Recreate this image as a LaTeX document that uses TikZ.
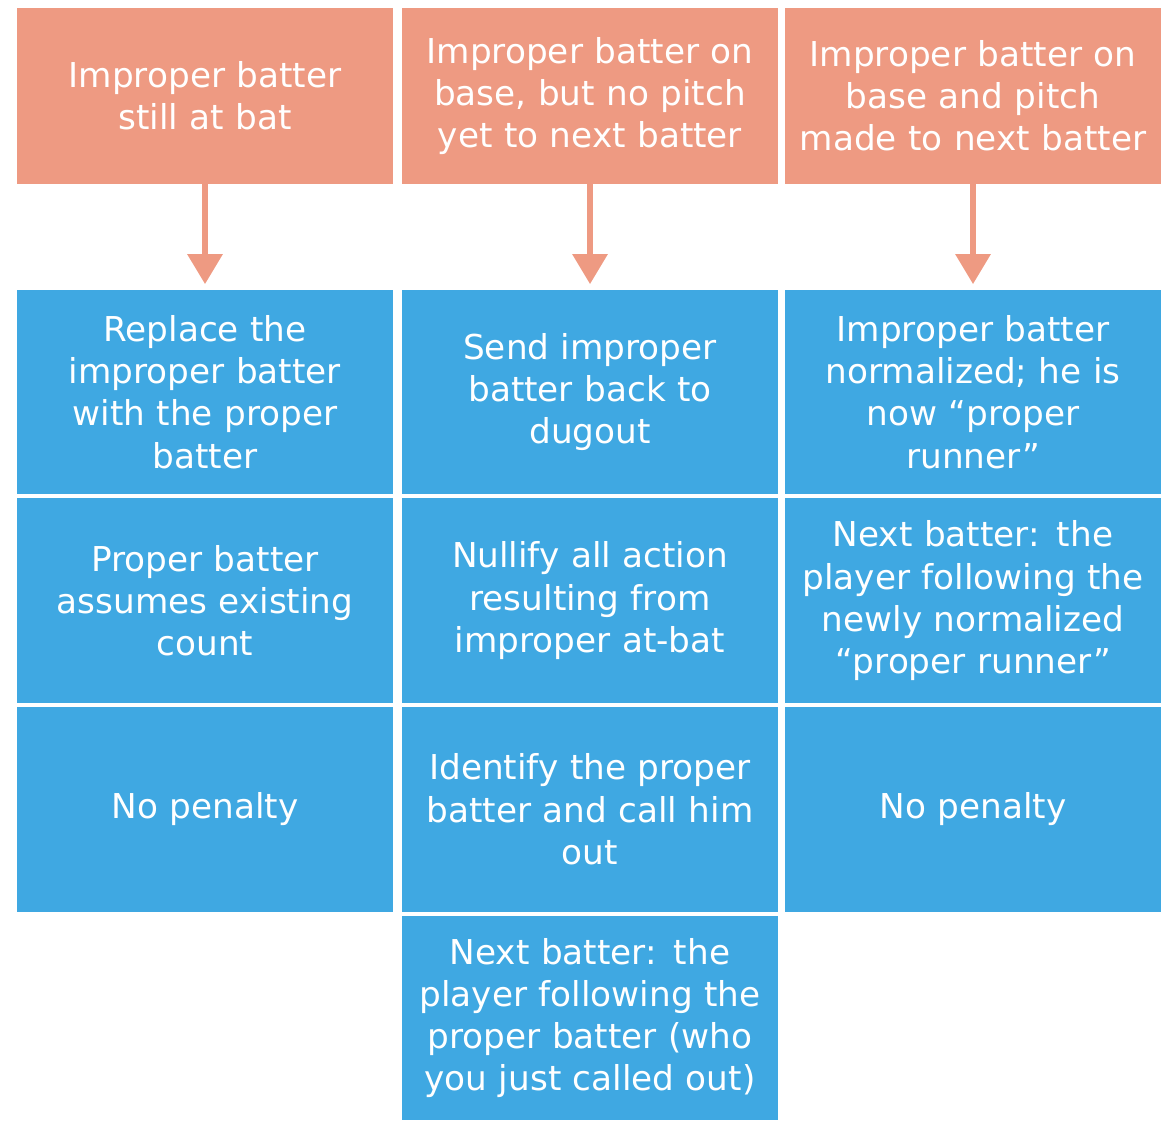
\documentclass[tikz,border=0pt]{standalone}
\usepackage{fontspec}
\setmainfont{DejaVu Sans}
\usepackage{tikz}
\usetikzlibrary{positioning, arrows.meta}
\definecolor{salmon}{HTML}{EE9A82}
\definecolor{skyblue}{HTML}{3FA8E2}
\newcommand{\boxfont}{\fontsize{19.5}{24}\selectfont}

\begin{document}
\begin{tikzpicture}[x=0.02cm, y=-0.02cm,
    case/.style={fill=salmon, text=white, minimum width=7.52cm,
      minimum height=3.52cm, text width=7.3cm, align=center,
      inner sep=0pt, font=\boxfont},
    act/.style={case, fill=skyblue, minimum height=4.1cm},
    flow/.style={draw=salmon, line width=0.12cm,
      -{Triangle[width=0.68cm, length=0.6cm]}, shorten >=0.1cm}]
  \useasboundingbox (0,0) rectangle (1161,1122);

  % the three situations
  \node[case] (case1) at (205,96) {Improper batter\\still at bat};
  \node[case] (case2) at (590,96) {Improper batter on\\base, but no pitch\\yet to next batter};
  \node[case] (case3) at (973,96) {Improper batter on\\base and pitch\\made to next batter};

  % still at bat
  \node[act] (repl) at (205,392) {Replace the\\improper batter\\with the proper\\batter};
  \node[act, below=0.06cm of repl] (assume) {Proper batter\\assumes existing\\count};
  \node[act, below=0.06cm of assume] (nopen1) {No penalty};

  % no pitch yet
  \node[act] (send) at (590,392) {Send improper\\batter back to\\dugout};
  \node[act, below=0.06cm of send] (nullify) {Nullify all action\\resulting from\\improper at-bat};
  \node[act, below=0.06cm of nullify] (ident) {Identify the proper\\batter and call him\\out};
  \node[act, below=0.06cm of ident] (nextb) {Next batter: the\\player following the\\proper batter (who\\you just called out)};

  % pitch made
  \node[act] (normal) at (973,392) {Improper batter\\normalized; he is\\now “proper\\runner”};
  \node[act, below=0.06cm of normal] (nextr) {Next batter: the\\player following the\\newly normalized\\“proper runner”};
  \node[act, below=0.06cm of nextr] (nopen2) {No penalty};

  \draw[flow] (case1) -- (repl);
  \draw[flow] (case2) -- (send);
  \draw[flow] (case3) -- (normal);
\end{tikzpicture}
\end{document}
